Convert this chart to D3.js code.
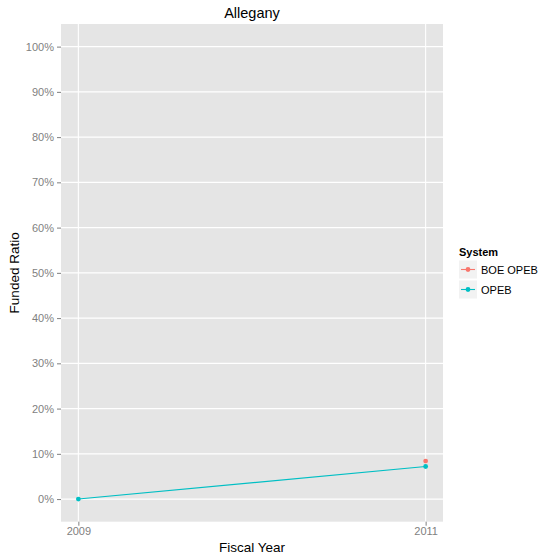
<!DOCTYPE html>
<html><head><meta charset="utf-8">
<script src="https://cdn.jsdelivr.net/npm/d3@7"></script>
<style>body{margin:0;background:#fff}svg{display:block}text{font-family:"Liberation Sans",Arial,Helvetica,sans-serif}</style>
</head><body><svg id="c" width="542" height="557"></svg>
<script>
const years = [2009, 2011];
const seriesNames = ["BOE OPEB", "OPEB"];
const boeOpeb = [null, 0.084];
const opeb = [0, 0.072];
const yTicks = [0, 0.1, 0.2, 0.3, 0.4, 0.5, 0.6, 0.7, 0.8, 0.9, 1.0];
const colors = ["#F8766D", "#00BFC4"];
const title = "Allegany";

const svg = d3.select("#c");
const L = 61, R = 443, T = 24, B = 521.7;
const x = d3.scaleLinear().domain([2008.9, 2011.1]).range([L, R]);
const y = d3.scaleLinear().domain([-0.05, 1.05]).range([B, T]);

svg.append("rect").attr("x", L).attr("y", T).attr("width", R - L).attr("height", B - T).attr("fill", "#E5E5E5");
svg.append("g").selectAll("line").data(yTicks).join("line")
  .attr("x1", L).attr("x2", R).attr("y1", d => y(d)).attr("y2", d => y(d))
  .attr("stroke", "#fff").attr("stroke-width", 1.1);
svg.append("g").selectAll("line").data(years).join("line")
  .attr("y1", T).attr("y2", B).attr("x1", d => x(d)).attr("x2", d => x(d))
  .attr("stroke", "#fff").attr("stroke-width", 1.1);

const yAxis = svg.append("g").attr("transform", `translate(${L},0)`)
  .call(d3.axisLeft(y).tickValues(yTicks).tickFormat(d3.format(".0%")).tickSize(4).tickPadding(3));
const xAxis = svg.append("g").attr("transform", `translate(0,${B})`)
  .call(d3.axisBottom(x).tickValues(years).tickFormat(d3.format("d")).tickSize(4).tickPadding(2));
[yAxis, xAxis].forEach(a => {
  a.select(".domain").remove();
  a.selectAll(".tick line").attr("stroke", "#7F7F7F").attr("stroke-width", 1);
  a.selectAll(".tick text").attr("fill", "#7F7F7F").attr("font-size", 11);
});

const series = [boeOpeb, opeb];
const line = d3.line().defined(d => d.v !== null).x(d => x(d.yr)).y(d => y(d.v));
series.forEach((s, i) => {
  const pts = years.map((yr, j) => ({yr, v: s[j]}));
  svg.append("path").datum(pts).attr("d", line).attr("fill", "none")
    .attr("stroke", colors[i]).attr("stroke-width", 1.1);
  svg.append("g").selectAll("circle").data(pts.filter(p => p.v !== null)).join("circle")
    .attr("cx", p => x(p.yr)).attr("cy", p => y(p.v)).attr("r", 2.4).attr("fill", colors[i]);
});

svg.append("text").attr("x", (L + R) / 2).attr("y", 18).attr("text-anchor", "middle")
  .attr("font-size", 14.5).attr("fill", "#000").text(title);
svg.append("text").attr("x", (L + R) / 2).attr("y", 552).attr("text-anchor", "middle")
  .attr("font-size", 13.5).attr("fill", "#000").text("Fiscal Year");
svg.append("text").attr("transform", `translate(19,${(T + B) / 2}) rotate(-90)`).attr("text-anchor", "middle")
  .attr("font-size", 13.5).attr("fill", "#000").text("Funded Ratio");

const lg = svg.append("g");
lg.append("text").attr("x", 459).attr("y", 256).attr("font-size", 11).attr("font-weight", "bold").text("System");
seriesNames.forEach((n, i) => {
  const cy = 269.5 + i * 20;
  lg.append("rect").attr("x", 459).attr("y", cy - 9).attr("width", 18).attr("height", 18).attr("fill", "#F2F2F2");
  lg.append("line").attr("x1", 461).attr("x2", 475).attr("y1", cy).attr("y2", cy).attr("stroke", colors[i]).attr("stroke-width", 1.1);
  lg.append("circle").attr("cx", 468).attr("cy", cy).attr("r", 2.4).attr("fill", colors[i]);
  lg.append("text").attr("x", 481).attr("y", cy + 4).attr("font-size", 11).text(n);
});
</script></body></html>
